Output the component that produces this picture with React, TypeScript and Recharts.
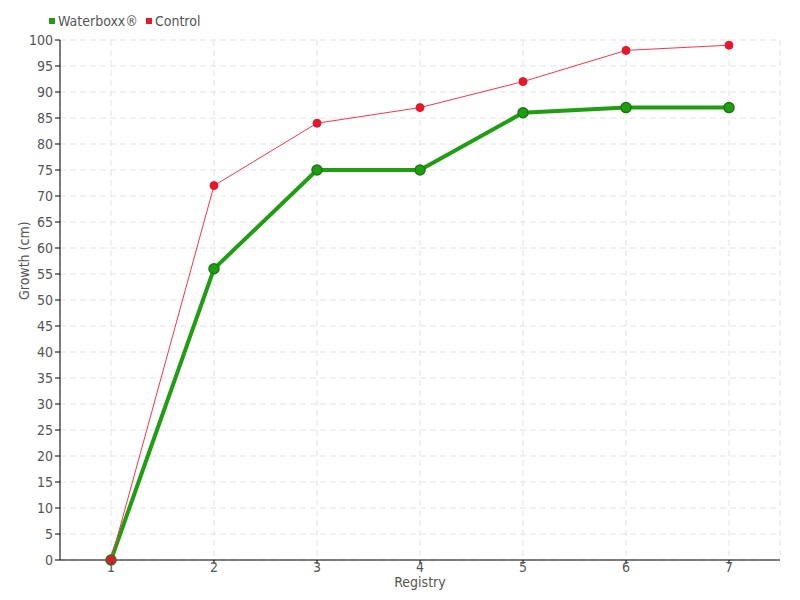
import { LineChart, Line, XAxis, YAxis, CartesianGrid } from 'recharts';

const registries = ['1', '2', '3', '4', '5', '6', '7'];
const waterboxx = [0, 56, 75, 75, 86, 87, 87];
const control = [0, 72, 84, 87, 92, 98, 99];
const yTicks = [0, 5, 10, 15, 20, 25, 30, 35, 40, 45, 50, 55, 60, 65, 70, 75, 80, 85, 90, 95, 100];

const FONT = '"DejaVu Sans Condensed", "Liberation Sans Narrow", sans-serif';
const GREEN = '#1f9e12';
const RED = '#e8162a';

const legendItems = [
    { name: 'Waterboxx®', color: GREEN },
    { name: 'Control', color: RED },
];

export default function App() {
    const data = registries.map((r, i) => ({
        registry: r,
        waterboxx: waterboxx[i],
        control: control[i],
    }));

    return (
        <div style={{ position: 'absolute', left: 0, top: 0, width: 800, height: 600, background: '#fff', fontFamily: FONT }}>
            {/* legend drawn as plain html so it doesn't push the plot down */}
            <div style={{ position: 'absolute', left: 49, top: 13, display: 'flex', gap: 8, fontSize: 14, color: '#555' }}>
                {legendItems.map((it) => (
                    <div key={it.name} style={{ display: 'flex', alignItems: 'center' }}>
                        <span style={{ width: 6, height: 6, background: it.color, display: 'inline-block', marginRight: 3 }} />
                        <span>{it.name}</span>
                    </div>
                ))}
            </div>
            <LineChart width={800} height={600} data={data} margin={{ top: 40, right: 20, bottom: 10, left: 0 }}>
                <CartesianGrid stroke="#e3e3e3" strokeDasharray="6 4" />
                <XAxis
                    dataKey="registry"
                    padding={{ left: 51, right: 51 }}
                    axisLine={{ stroke: '#000' }}
                    tickLine={{ stroke: '#000' }}
                    tickSize={4}
                    tickMargin={-2}
                    tick={{ fill: '#555', fontSize: 14, fontFamily: FONT }}
                    height={30}
                    label={{ value: 'Registry', position: 'insideBottom', offset: 3, fill: '#555', fontSize: 14, fontFamily: FONT }}
                />
                <YAxis
                    domain={[0, 100]}
                    ticks={yTicks}
                    interval={0}
                    width={60}
                    axisLine={{ stroke: '#000' }}
                    tickLine={{ stroke: '#000' }}
                    tickSize={5}
                    tick={{ fill: '#555', fontSize: 14, fontFamily: FONT }}
                    label={{ value: 'Growth (cm)', angle: -90, position: 'insideLeft', offset: 24, fill: '#555', fontSize: 14, fontFamily: FONT }}
                />
                <Line
                    name="Waterboxx®"
                    dataKey="waterboxx"
                    stroke={GREEN}
                    strokeWidth={4}
                    dot={{ r: 5, fill: GREEN, stroke: '#1a7a10', strokeWidth: 1.5 }}
                    isAnimationActive={false}
                />
                <Line
                    name="Control"
                    dataKey="control"
                    stroke="#ff3347"
                    strokeWidth={1}
                    dot={{ r: 4, fill: RED, stroke: RED, strokeWidth: 1 }}
                    isAnimationActive={false}
                />
            </LineChart>
        </div>
    );
}
